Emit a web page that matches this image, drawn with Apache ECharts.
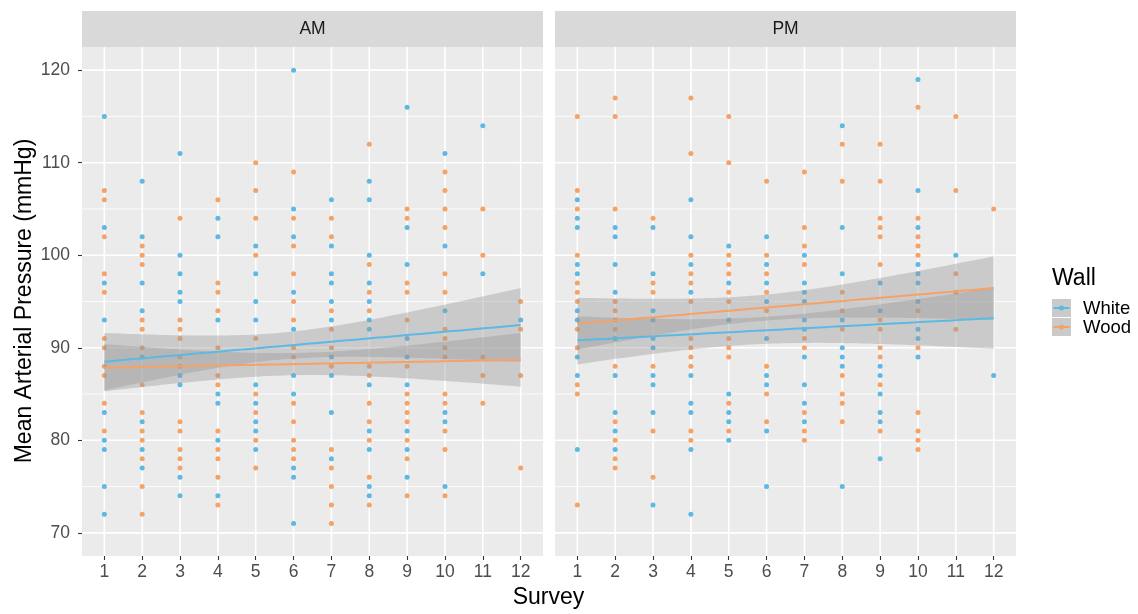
<!DOCTYPE html>
<html><head><meta charset="utf-8">
<script src="https://cdn.jsdelivr.net/npm/echarts@6/dist/echarts.min.js"></script>
<style>html,body{margin:0;padding:0;background:#fff}#c{width:1138px;height:614px}</style>
</head><body><div id="c"></div>
<script>
// ---------- data ----------
const surveys = [1,2,3,4,5,6,7,8,9,10,11,12];
const yTicks = [70,80,90,100,110,120];
const yMinorTicks = [75,85,95,105,115];
const panelNames = ['AM','PM'];
const groupNames = ['White','Wood'];

// each entry i holds the Mean Arterial Pressure values measured at survey i+1
const amWhite = [
  [115,103,97,93,83,80,79,75,72],
  [108,102,97,94,89,82,79,77],
  [111,100,98,96,95,87,86,76,74],
  [104,102,93,85,84,80,74],
  [101,98,95,93,86,84,82,81,79],
  [120,105,102,96,92,87,85,77,76,71],
  [106,101,98,97,95,93,89,87,83,78],
  [108,106,100,97,95,93,92,86,81,79,75,74],
  [116,103,99,91,89,86,81,79,76],
  [111,101,94,83,82,75],
  [114,98],
  [93]
];
const amWood = [
  [107,106,102,98,96,91,90,88,87,84,81],
  [101,100,99,93,92,90,86,83,81,80,78,75,72],
  [104,93,92,91,89,88,82,81,79,78,77],
  [106,97,96,94,90,87,86,81,79,78,76,73],
  [110,107,104,100,91,85,83,80,77],
  [109,104,101,98,95,93,90,89,84,82,80,79,78],
  [104,102,94,92,90,88,79,77,75,73,71],
  [112,99,96,94,88,87,84,82,80,76,73],
  [105,104,97,96,93,88,85,84,83,82,80,78,74],
  [109,107,105,103,98,96,92,91,90,89,85,84,81,79,74],
  [105,100,89,87,84],
  [95,92,87,77]
];
const pmWhite = [
  [106,104,103,99,98,94,93,89,87,79],
  [103,102,99,96,91,87,83,81,79],
  [103,98,94,93,91,90,87,86,83,73],
  [106,102,99,96,87,84,83,79,72],
  [101,97,93,85,83,82,80],
  [102,99,97,95,91,87,86,81,75],
  [100,97,96,95,93,92,89,86,84,82],
  [114,103,98,93,90,89,88,75],
  [97,94,88,87,85,83,82,78],
  [119,107,103,99,98,97,95,92,91,89],
  [100],
  [87]
];
const pmWood = [
  [115,107,105,100,97,96,95,92,90,86,85,73],
  [117,115,105,95,94,93,92,88,82,80,78,77],
  [104,97,96,88,81,76],
  [117,111,100,98,97,95,91,90,89,88,81,80],
  [115,110,100,99,98,96,95,91,90,89,84,81],
  [108,100,98,96,94,88,85,82],
  [109,103,101,99,91,90,83,81,80],
  [112,108,96,94,92,87,85,84,82],
  [112,108,104,103,102,99,93,92,90,89,86,81],
  [116,104,102,101,100,94,90,83,81,80,79],
  [115,107,98,96,92],
  [105]
];

// fitted linear trend (geom_smooth lm): value at survey 1 and survey 12
const amWhiteFit = [88.5, 92.45];
const amWoodFit  = [87.85, 88.7];
const pmWhiteFit = [90.8, 93.2];
const pmWoodFit  = [92.6, 96.45];
// 95% band half-width: [at survey 1, narrowest, at survey 12]
const amWhiteBand = [3.1, 1.45, 4.0];
const amWoodBand  = [2.55, 1.2, 2.9];
const pmWhiteBand = [2.6, 1.45, 3.3];
const pmWoodBand  = [2.8, 1.4, 3.43];

const groupData = [[amWhite, amWood],[pmWhite, pmWood]];
const groupFits = [[amWhiteFit, amWoodFit],[pmWhiteFit, pmWoodFit]];
const groupBands = [[amWhiteBand, amWoodBand],[pmWhiteBand, pmWoodBand]];
const groupColors = ['#5DB8E4','#F5A267'];

// ---------- helpers ----------
function toPoints(arr){
  const pts = [];
  arr.forEach((vals,i)=>vals.forEach(v=>pts.push([surveys[i], v])));
  return pts;
}
// straight fit line and its hyperbolic confidence band (shape of an lm band)
function smooth(fit, band){
  const x0 = surveys[0], x1 = surveys[surveys.length-1];
  const h0 = band[1];
  const sa = Math.sqrt(Math.max(band[0]*band[0]-h0*h0, 0));
  const sb = Math.sqrt(Math.max(band[2]*band[2]-h0*h0, 0));
  const k = (sa+sb)/(x1-x0);
  const c = x0 + sa/k;
  const line=[], upper=[], lower=[];
  for(let i=0;i<80;i++){
    const x = x0+(x1-x0)*i/79;
    const y = fit[0]+(fit[1]-fit[0])*(x-x0)/(x1-x0);
    const hw = Math.sqrt(h0*h0 + k*k*(x-c)*(x-c));
    line.push([x,y]); upper.push([x,y+hw]); lower.push([x,y-hw]);
  }
  return {line, upper, lower};
}

const X_MIN=0.41, X_MAX=12.59, Y_MIN=67.5, Y_MAX=122.5;
const FONT='"Liberation Sans", Arial, Helvetica, sans-serif';

const grids=[], xAxes=[], yAxes=[], series=[];
const gridLefts=[82,555];
panelNames.forEach((pn,pi)=>{
  grids.push({left:gridLefts[pi], top:47, width:461, height:509, show:true, backgroundColor:'#EBEBEB', borderWidth:0});
  xAxes.push({gridIndex:pi, type:'value', min:X_MIN, max:X_MAX,
    axisLine:{show:false}, splitLine:{show:false},
    axisTick:{show:true, length:4, customValues:surveys, lineStyle:{color:'#333333', width:1.1}},
    axisLabel:{show:true, customValues:surveys, margin:7, color:'#4D4D4D', fontSize:17.5, fontFamily:FONT}});
  yAxes.push({gridIndex:pi, type:'value', min:Y_MIN, max:Y_MAX,
    axisLine:{show:false}, splitLine:{show:false},
    axisTick:{show:pi===0, length:4, customValues:yTicks, lineStyle:{color:'#333333', width:1.1}},
    axisLabel:{show:pi===0, customValues:yTicks, margin:12, color:'#4D4D4D', fontSize:17.5, fontFamily:FONT}});

  const hLine=(w)=>(params,api)=>{
    const v=api.value(0); const a=api.coord([X_MIN,v]); const b=api.coord([X_MAX,v]);
    return {type:'line', shape:{x1:a[0],y1:a[1],x2:b[0],y2:b[1]}, style:{stroke:'#FFFFFF', lineWidth:w}};
  };
  const vLine=(w)=>(params,api)=>{
    const v=api.value(0); const a=api.coord([v,Y_MIN]); const b=api.coord([v,Y_MAX]);
    return {type:'line', shape:{x1:a[0],y1:a[1],x2:b[0],y2:b[1]}, style:{stroke:'#FFFFFF', lineWidth:w}};
  };
  series.push({type:'custom', xAxisIndex:pi, yAxisIndex:pi, silent:true, z:1, renderItem:hLine(0.8), data:yMinorTicks.map(v=>[v]), encode:{y:0}});
  series.push({type:'custom', xAxisIndex:pi, yAxisIndex:pi, silent:true, z:1, renderItem:hLine(1.6), data:yTicks.map(v=>[v]), encode:{y:0}});
  series.push({type:'custom', xAxisIndex:pi, yAxisIndex:pi, silent:true, z:1, renderItem:vLine(1.6), data:surveys.map(v=>[v]), encode:{x:0}});

  groupNames.forEach((gn,gi)=>{
    series.push({type:'scatter', name:gn, xAxisIndex:pi, yAxisIndex:pi, z:2, symbol:'circle', symbolSize:5,
      itemStyle:{color:groupColors[gi], opacity:1}, data:toPoints(groupData[pi][gi])});
  });
  groupNames.forEach((gn,gi)=>{
    const f=smooth(groupFits[pi][gi], groupBands[pi][gi]);
    series.push({type:'custom', xAxisIndex:pi, yAxisIndex:pi, silent:true, z:3, data:[[f.line[0][0], f.line[0][1]]],
      renderItem:(params,api)=>{
        const pts=f.upper.map(p=>api.coord(p)).concat(f.lower.slice().reverse().map(p=>api.coord(p)));
        return {type:'polygon', shape:{points:pts}, style:{fill:'rgba(153,153,153,0.4)'}};
      }});
    series.push({type:'line', xAxisIndex:pi, yAxisIndex:pi, z:3, silent:true, symbol:'none', showSymbol:false,
      lineStyle:{color:groupColors[gi], width:2}, data:f.line});
  });
});

const graphic=[];
panelNames.forEach((pn,pi)=>{
  graphic.push({type:'rect', shape:{x:gridLefts[pi], y:11, width:461, height:36}, style:{fill:'#D9D9D9'}, silent:true});
  graphic.push({type:'text', x:gridLefts[pi]+230.5, y:29, style:{text:pn, fill:'#1A1A1A', font:'17.5px '+FONT, textAlign:'center', textVerticalAlign:'middle'}, silent:true});
});
graphic.push({type:'text', x:25, y:301, rotation:Math.PI/2, style:{text:'Mean Arterial Pressure (mmHg)', fill:'#000', font:'23px '+FONT, textAlign:'center', textVerticalAlign:'middle'}});
graphic.push({type:'text', x:548.5, y:598, style:{text:'Survey', fill:'#000', font:'23px '+FONT, textAlign:'center', textVerticalAlign:'middle'}});
graphic.push({type:'text', x:1052, y:279, style:{text:'Wall', fill:'#000', font:'23px '+FONT, textAlign:'left', textVerticalAlign:'middle'}});
groupNames.forEach((gn,gi)=>{
  const y0=299+gi*19;
  graphic.push({type:'rect', shape:{x:1052, y:y0, width:19, height:18}, style:{fill:'#CACACA'}});
  graphic.push({type:'line', shape:{x1:1053.5, y1:y0+9, x2:1069.5, y2:y0+9}, style:{stroke:groupColors[gi], lineWidth:2}});
  graphic.push({type:'circle', shape:{cx:1061.5, cy:y0+9, r:2.5}, style:{fill:groupColors[gi]}});
  graphic.push({type:'text', x:1083, y:y0+9.5, style:{text:gn, fill:'#000', font:'18.5px '+FONT, textAlign:'left', textVerticalAlign:'middle'}});
});

const chart=echarts.init(document.getElementById('c'), null, {renderer:'canvas'});
chart.setOption({animation:false, backgroundColor:'#FFFFFF', grid:grids, xAxis:xAxes, yAxis:yAxes, series, graphic});
</script></body></html>
